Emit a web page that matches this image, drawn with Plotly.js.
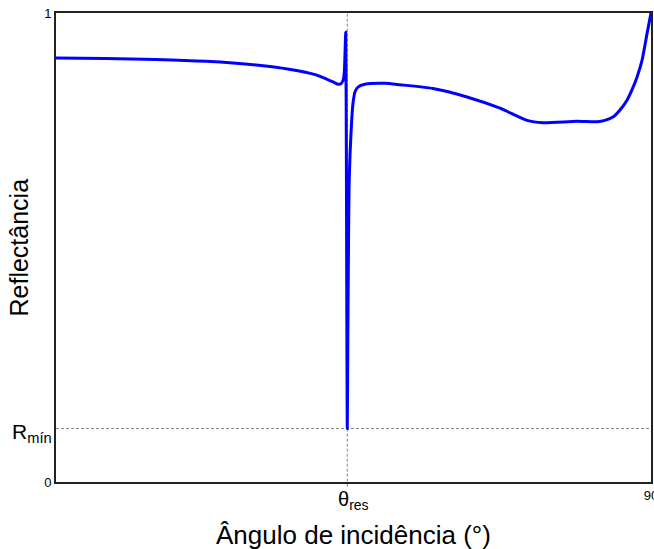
<!DOCTYPE html>
<html>
<head>
<meta charset="utf-8">
<script src="https://cdn.plot.ly/plotly-3.0.1.min.js"></script>
<style>
  html, body { margin: 0; padding: 0; background: #fff; }
  #chart { width: 654px; height: 549px; }
</style>
</head>
<body>
<div id="chart"></div>
<script>
// Reflectance curve versus angle of incidence (surface plasmon resonance dip)
const angle = [0, 7.56, 15.13, 22.69, 30.25, 35.24, 39.33, 41.90, 42.70, 43.10, 43.41, 43.60, 43.72,
  43.82, 43.92, 44.00, 44.06, 44.14, 44.24, 44.33, 44.48, 44.73, 44.92, 45.23, 45.68, 46.74,
  49.76, 52.03, 57.03, 62.17, 67.16, 71.24, 73.66, 78.81, 81.83, 83.04, 84.25, 85.31, 86.37,
  87.12, 87.88, 88.64, 89.40, 90];
const reflectance = [0.904, 0.903, 0.901, 0.897, 0.889, 0.880, 0.868, 0.853, 0.848, 0.849, 0.856, 0.872, 0.915,
  0.959, 0.700, 0.300, 0.114, 0.300, 0.500, 0.629, 0.700, 0.771, 0.807, 0.832, 0.842, 0.848,
  0.850, 0.847, 0.839, 0.821, 0.797, 0.771, 0.766, 0.769, 0.768, 0.771, 0.778, 0.793, 0.814,
  0.836, 0.863, 0.899, 0.956, 1.0];

const THETA_RES = 44.06;   // resonance angle
const R_MIN = 0.114;       // minimum reflectance

const xTickVals = [90];
const xTickText = ['90'];
const yTickVals = [0, 1];
const yTickText = ['0', '1'];

const trace = {
  x: angle,
  y: reflectance,
  type: 'scatter',
  mode: 'lines',
  line: { color: '#0000ff', width: 3, shape: 'spline', smoothing: 0.6 },
  hoverinfo: 'x+y'
};

const axisLine = { showline: true, linecolor: '#222', linewidth: 2, mirror: true,
  zeroline: false, showgrid: false, ticks: '', ticklabeloverflow: 'allow', automargin: false };

const layout = {
  width: 654,
  height: 549,
  margin: { l: 56, r: 2.5, t: 13, b: 67, pad: 0 },
  paper_bgcolor: '#ffffff',
  plot_bgcolor: '#ffffff',
  showlegend: false,
  font: { family: 'Liberation Sans, Arial, sans-serif', color: '#000' },
  xaxis: Object.assign({}, axisLine, {
    range: [0, 90],
    tickmode: 'array', tickvals: xTickVals, ticktext: xTickText,
    tickfont: { size: 13 }
  }),
  yaxis: Object.assign({}, axisLine, {
    range: [0, 1],
    tickmode: 'array', tickvals: yTickVals, ticktext: yTickText,
    tickfont: { size: 13 }
  }),
  shapes: [
    { type: 'line', xref: 'x', yref: 'paper', x0: THETA_RES, x1: THETA_RES, y0: -0.01, y1: 1,
      line: { color: '#888', width: 1, dash: '3px,2px' }, layer: 'below' },
    { type: 'line', xref: 'paper', yref: 'y', x0: 0, x1: 1, y0: R_MIN, y1: R_MIN,
      line: { color: '#888', width: 1, dash: '3px,2px' }, layer: 'below' }
  ],
  annotations: [
    { xref: 'paper', yref: 'y', x: 0, y: R_MIN, xanchor: 'right', yanchor: 'middle',
      xshift: -2, yshift: -4, showarrow: false,
      text: 'R<sub>mín</sub>', font: { size: 21 } },
    { xref: 'x', yref: 'paper', x: THETA_RES, y: 0, xanchor: 'center', yanchor: 'top',
      xshift: 6, yshift: -4, showarrow: false,
      text: 'θ<sub>res</sub>', font: { size: 20 } },
    // axis titles
    { xref: 'paper', yref: 'paper', x: 0.5, y: 0, xanchor: 'center', yanchor: 'top',
      yshift: -36, showarrow: false,
      text: 'Ângulo de incidência (°)', font: { size: 26 } },
    { xref: 'paper', yref: 'paper', x: 0, y: 0.5, xanchor: 'right', yanchor: 'middle',
      xshift: -22, showarrow: false, textangle: -90,
      text: 'Reflectância', font: { size: 25 } }
  ]
};

Plotly.newPlot('chart', [trace], layout, { displayModeBar: false, staticPlot: true });
</script>
</body>
</html>
